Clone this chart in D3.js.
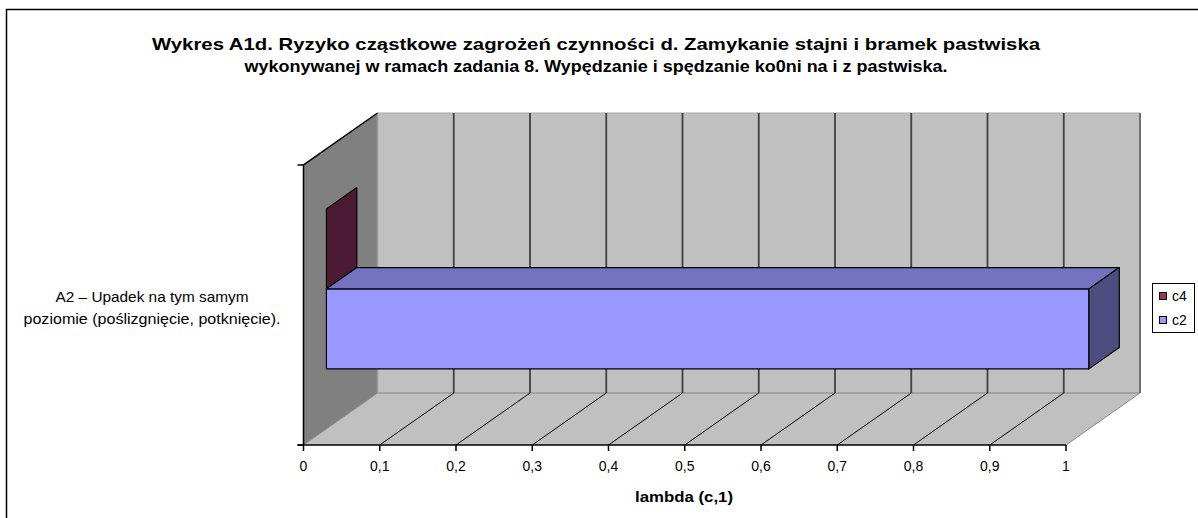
<!DOCTYPE html>
<html><head><meta charset="utf-8">
<script src="https://cdn.jsdelivr.net/npm/d3@7"></script>
<style>body{margin:0;background:#fff}svg{display:block}text{font-family:"Liberation Sans",Arial,sans-serif}</style>
</head><body><svg id="c" width="1198" height="518"></svg>
<script>
const titleLines = ["Wykres A1d. Ryzyko cząstkowe zagrożeń czynności d. Zamykanie stajni i bramek pastwiska",
  "wykonywanej w ramach zadania 8. Wypędzanie i spędzanie ko0ni na i z pastwiska."];
const categories = ["A2 – Upadek na tym samym poziomie (poślizgnięcie, potknięcie)."];
const categoryLines = ["A2 – Upadek na tym samym", "poziomie (poślizgnięcie, potknięcie)."];
const seriesNames = ["c4", "c2"];
const seriesColors = ["#993366", "#9999ff"];
const c4Values = [0];
const c2Values = [1];
const xTicks = [0, 0.1, 0.2, 0.3, 0.4, 0.5, 0.6, 0.7, 0.8, 0.9, 1];
const xTickLabels = ["0","0,1","0,2","0,3","0,4","0,5","0,6","0,7","0,8","0,9","1"];
const xTitle = "lambda (c,1)";

const svg = d3.select("#c");
// outer border
svg.append("rect").attr("x",6.5).attr("y",9.5).attr("width",1200).attr("height",520)
  .attr("fill","none").attr("stroke","#000").attr("stroke-width",1.5);

const x = d3.scaleLinear().domain([0,1]).range([303.5,1066]);
const yCat = d3.scaleBand().domain(categories).range([165,445]);
const ySer = d3.scaleBand().domain(seriesNames).range([0,yCat.bandwidth()]).paddingInner(0).paddingOuter(0.75);
const DX = 74, DY = -52;
const P = (v, yf, d) => [x(v) + d*DX, yf + d*DY];
const poly = pts => "M" + pts.map(p => p.join(",")).join("L") + "Z";
const y0 = 165, y1 = 445;

// walls
svg.append("path").attr("d", poly([P(0,y0,0),P(0,y0,1),P(0,y1,1),P(0,y1,0)])).attr("fill","#808080");
svg.append("path").attr("d", poly([P(0,y0,1),P(1,y0,1),P(1,y1,1),P(0,y1,1)])).attr("fill","#c0c0c0");
svg.append("path").attr("d", poly([P(0,y1,0),P(0,y1,1),P(1,y1,1),P(1,y1,0)])).attr("fill","#c0c0c0");
// back wall edges
svg.append("line").attr("x1",P(0,y0,1)[0]).attr("y1",P(0,y0,1)[1]).attr("x2",P(1,y0,1)[0]).attr("y2",P(1,y0,1)[1]).attr("stroke","#a8a8a8").attr("stroke-width",1);
svg.append("line").attr("x1",P(0,y0,1)[0]).attr("y1",P(0,y0,1)[1]).attr("x2",P(0,y1,1)[0]).attr("y2",P(0,y1,1)[1]).attr("stroke","#999").attr("stroke-width",1.5);
svg.append("line").attr("x1",P(0,y1,1)[0]).attr("y1",P(0,y1,1)[1]).attr("x2",P(1,y1,1)[0]).attr("y2",P(1,y1,1)[1]).attr("stroke","#999").attr("stroke-width",1.5);
svg.append("line").attr("x1",P(1,y0,1)[0]).attr("y1",P(1,y0,1)[1]).attr("x2",P(1,y1,1)[0]).attr("y2",P(1,y1,1)[1]).attr("stroke","#707070").attr("stroke-width",2);
// floor edges gray
svg.append("line").attr("x1",P(0,y1,0)[0]).attr("y1",P(0,y1,0)[1]).attr("x2",P(0,y1,1)[0]).attr("y2",P(0,y1,1)[1]).attr("stroke","#888").attr("stroke-width",1);
svg.append("line").attr("x1",P(1,y1,0)[0]).attr("y1",P(1,y1,0)[1]).attr("x2",P(1,y1,1)[0]).attr("y2",P(1,y1,1)[1]).attr("stroke","#888").attr("stroke-width",1);

// gridlines
const inner = xTicks.filter(t => t > 0 && t < 1);
svg.selectAll(".gb").data(inner).join("line")
  .attr("x1", d => P(d,y0,1)[0]).attr("y1", d => P(d,y0,1)[1])
  .attr("x2", d => P(d,y1,1)[0]).attr("y2", d => P(d,y1,1)[1])
  .attr("stroke","#404040").attr("stroke-width",1.8);
svg.selectAll(".gf").data(inner).join("line")
  .attr("x1", d => P(d,y1,0)[0]).attr("y1", d => P(d,y1,0)[1])
  .attr("x2", d => P(d,y1,1)[0]).attr("y2", d => P(d,y1,1)[1])
  .attr("stroke","#000").attr("stroke-width",1);

// left wall outline
svg.append("path").attr("d", "M" + [P(0,y1,0),P(0,y0,0),P(0,y0,1)].map(p=>p.join(",")).join("L"))
  .attr("fill","none").attr("stroke","#000").attr("stroke-width",1.5);
// category ticks
svg.selectAll(".ct").data([y0,y1]).join("line")
  .attr("x1", x(0)-6).attr("x2", x(0)).attr("y1", d=>d).attr("y2", d=>d)
  .attr("stroke","#000").attr("stroke-width",1.5);

// bars
const d0 = 0.31, d1 = 0.72;
const shade = (c,k) => { const r = d3.rgb(c); return d3.rgb(r.r*k, r.g*k, r.b*k).formatHex(); };
const seriesValues = [c4Values, c2Values];
categories.forEach((cat, ci) => {
  seriesNames.forEach((s, si) => {
    const v = seriesValues[si][ci];
    const yt = yCat(cat) + ySer(s), yb = yt + ySer.bandwidth();
    const g = svg.append("g").attr("stroke","#000").attr("stroke-width",1.2).attr("stroke-linejoin","round");
    const col = seriesColors[si];
    if (v > 0) {
      g.append("path").attr("d", poly([P(0,yt,d0),P(v,yt,d0),P(v,yb,d0),P(0,yb,d0)])).attr("fill", col);
      g.append("path").attr("d", poly([P(0,yt,d0),P(0,yt,d1),P(v,yt,d1),P(v,yt,d0)])).attr("fill", shade(col,0.75));
    }
    g.append("path").attr("d", poly([P(v,yt,d0),P(v,yt,d1),P(v,yb,d1),P(v,yb,d0)])).attr("fill", shade(col,0.5));
  });
});

// value axis front edge
svg.append("line").attr("x1",x(0)-6).attr("x2",x(1)).attr("y1",y1).attr("y2",y1).attr("stroke","#000").attr("stroke-width",1.5);
svg.selectAll(".xt").data(xTicks).join("line")
  .attr("x1", d=>x(d)).attr("x2", d=>x(d)).attr("y1", y1).attr("y2", y1+6)
  .attr("stroke","#000").attr("stroke-width",1.5);
svg.selectAll(".xl").data(xTicks).join("text")
  .attr("x", d=>x(d)).attr("y", 471).attr("text-anchor","middle")
  .attr("font-size",14).attr("fill","#000").text((d,i)=>xTickLabels[i]);
svg.append("text").attr("x",684).attr("y",502).attr("text-anchor","middle")
  .attr("font-size",14).attr("font-weight","bold")
  .attr("textLength",98).attr("lengthAdjust","spacingAndGlyphs").text(xTitle);

// category label
const clw = [193, 257];
svg.selectAll(".cl").data(categoryLines).join("text")
  .attr("x",152).attr("y",(d,i)=>302+i*22).attr("text-anchor","middle")
  .attr("font-size",15).attr("textLength",(d,i)=>clw[i]).attr("lengthAdjust","spacingAndGlyphs").text(d=>d);

// title
const tw = [888, 703];
svg.selectAll(".tt").data(titleLines).join("text")
  .attr("x",596).attr("y",(d,i)=>50+i*22).attr("text-anchor","middle")
  .attr("font-size",17).attr("font-weight","bold")
  .attr("textLength",(d,i)=>tw[i]).attr("lengthAdjust","spacingAndGlyphs").text(d=>d);

// legend
const lg = svg.append("g");
lg.append("rect").attr("x",1152.5).attr("y",283.5).attr("width",42).attr("height",49).attr("fill","#fff").attr("stroke","#000").attr("stroke-width",1);
seriesNames.forEach((s,i)=>{
  lg.append("rect").attr("x",1159.5).attr("y",292.5+i*24).attr("width",7).attr("height",7).attr("fill",seriesColors[i]).attr("stroke","#000").attr("stroke-width",1);
  lg.append("text").attr("x",1172).attr("y",301+i*24).attr("font-size",14).text(s);
});
</script></body></html>
